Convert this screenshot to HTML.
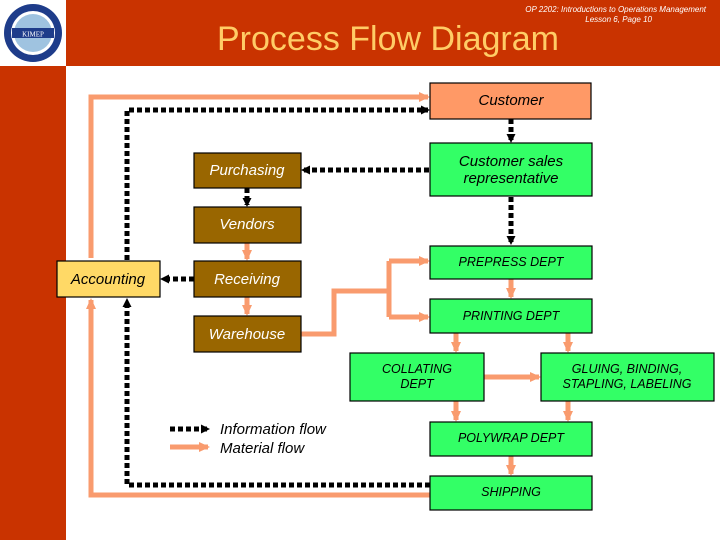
<!DOCTYPE html>
<html><head><style>
body{margin:0;width:720px;height:540px;overflow:hidden;background:#fff;font-family:"Liberation Sans",sans-serif}
</style></head><body>
<svg width="720" height="540" viewBox="0 0 720 540" xmlns="http://www.w3.org/2000/svg" font-family="Liberation Sans, sans-serif">
<defs>
<marker id="ms" markerWidth="11" markerHeight="10" refX="9" refY="5" orient="auto" markerUnits="userSpaceOnUse"><path d="M0,0L11,5L0,10z" fill="#F99B6E"/></marker>
<marker id="mb" markerWidth="9" markerHeight="9" refX="7" refY="4.5" orient="auto" markerUnits="userSpaceOnUse"><path d="M0,0L9,4.5L0,9z" fill="#000"/></marker>
</defs>
<rect x="0" y="0" width="720" height="66" fill="#C93300"/>
<rect x="0" y="0" width="66" height="540" fill="#C93300"/>
<rect x="0" y="0" width="66" height="66" fill="#fff"/>
<circle cx="33" cy="33" r="29" fill="#1E3C8A"/>
<circle cx="33" cy="33" r="22" fill="#fff"/>
<circle cx="33" cy="33" r="19" fill="#9FC3E0"/>
<rect x="12" y="28" width="42" height="10" fill="#1E3C8A"/>
<text x="33" y="36.5" font-size="7" fill="#fff" text-anchor="middle" font-family="Liberation Serif, serif">KIMEP</text>
<text x="388" y="50" font-size="34" fill="#FFCC66" text-anchor="middle">Process Flow Diagram</text>
<text x="706" y="12" font-size="8" fill="#fff" font-style="italic" text-anchor="end">OP 2202: Introductions to Operations Management</text>
<text x="652" y="22" font-size="8" fill="#fff" font-style="italic" text-anchor="end">Lesson 6, Page 10</text>

<g fill="none" stroke="#F99B6E" stroke-width="5">
<path d="M91,258 V97 H428" marker-end="url(#ms)"/>
<path d="M430,495 H91 V300" marker-end="url(#ms)"/>
<path d="M247,243 V259" marker-end="url(#ms)"/>
<path d="M247,297 V314" marker-end="url(#ms)"/>
<path d="M301,334 H334 V291 H389"/>
<path d="M389,261 V317"/>
<path d="M389,261 H428" marker-end="url(#ms)"/>
<path d="M389,317 H428" marker-end="url(#ms)"/>
<path d="M511,279 V297" marker-end="url(#ms)"/>
<path d="M456,333 V351" marker-end="url(#ms)"/>
<path d="M568,333 V351" marker-end="url(#ms)"/>
<path d="M484,377 H539" marker-end="url(#ms)"/>
<path d="M456,401 V420" marker-end="url(#ms)"/>
<path d="M568,401 V420" marker-end="url(#ms)"/>
<path d="M511,456 V474" marker-end="url(#ms)"/>
<path d="M170,447 H208" marker-end="url(#ms)"/>
</g>
<g fill="none" stroke="#000" stroke-width="5" stroke-dasharray="5,3">
<path d="M127,260 V110 H428" marker-end="url(#mb)"/>
<path d="M430,485 H127 V300" marker-end="url(#mb)"/>
<path d="M511,119 V141" marker-end="url(#mb)"/>
<path d="M429,170 H303" marker-end="url(#mb)"/>
<path d="M247,188 V205" marker-end="url(#mb)"/>
<path d="M511,197 V243" marker-end="url(#mb)"/>
<path d="M194,279 H162" marker-end="url(#mb)"/>
<path d="M170,429 H208" marker-end="url(#mb)"/>
</g>

<g stroke="#000" stroke-width="1.2">
<rect x="430" y="83" width="161" height="36" fill="#FF9966"/>
<rect x="430" y="143" width="162" height="53" fill="#33FF66"/>
<rect x="194" y="153" width="107" height="35" fill="#996600"/>
<rect x="194" y="207" width="107" height="36" fill="#996600"/>
<rect x="57" y="261" width="103" height="36" fill="#FFD966"/>
<rect x="194" y="261" width="107" height="36" fill="#996600"/>
<rect x="194" y="316" width="107" height="36" fill="#996600"/>
<rect x="430" y="246" width="162" height="33" fill="#33FF66"/>
<rect x="430" y="299" width="162" height="34" fill="#33FF66"/>
<rect x="350" y="353" width="134" height="48" fill="#33FF66"/>
<rect x="541" y="353" width="173" height="48" fill="#33FF66"/>
<rect x="430" y="422" width="162" height="34" fill="#33FF66"/>
<rect x="430" y="476" width="162" height="34" fill="#33FF66"/>
</g>
<g font-style="italic" font-size="15" text-anchor="middle">
<text x="511" y="105">Customer</text>
<text x="511" y="166">Customer sales</text>
<text x="511" y="183">representative</text>
<text x="247" y="175" fill="#fff">Purchasing</text>
<text x="247" y="229" fill="#fff">Vendors</text>
<text x="108" y="284">Accounting</text>
<text x="247" y="284" fill="#fff">Receiving</text>
<text x="247" y="339" fill="#fff">Warehouse</text>
</g>
<g font-style="italic" font-size="12.5" text-anchor="middle">
<text x="511" y="266">PREPRESS DEPT</text>
<text x="511" y="320">PRINTING DEPT</text>
<text x="417" y="373">COLLATING</text>
<text x="417" y="388">DEPT</text>
<text x="627" y="373">GLUING, BINDING,</text>
<text x="627" y="388">STAPLING, LABELING</text>
<text x="511" y="442">POLYWRAP DEPT</text>
<text x="511" y="496">SHIPPING</text>
</g>
<text x="220" y="434" font-size="15" font-style="italic">Information flow</text>
<text x="220" y="453" font-size="15" font-style="italic">Material flow</text>
</svg>
</body></html>
